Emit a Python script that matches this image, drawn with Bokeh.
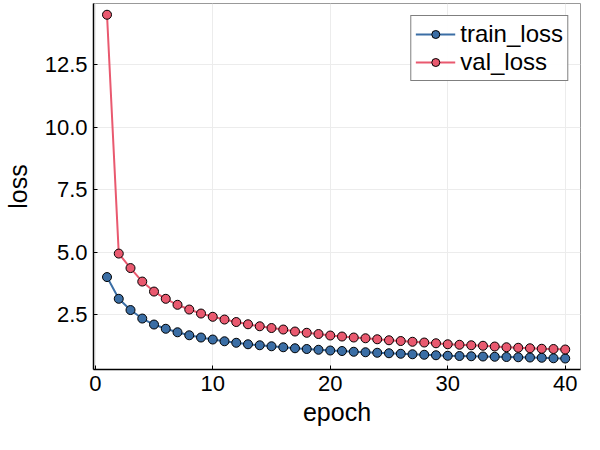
from bokeh.plotting import figure
from bokeh.embed import file_html
from bokeh.resources import INLINE
from bokeh.models import Range1d, FixedTicker, PrintfTickFormatter

epoch = list(range(1, 41))
train_loss = [4.00, 3.13, 2.68, 2.34, 2.10, 1.93, 1.79, 1.67, 1.58, 1.50,
              1.43, 1.37, 1.31, 1.27, 1.23, 1.19, 1.15, 1.12, 1.09, 1.06,
              1.04, 1.01, 0.99, 0.97, 0.95, 0.93, 0.91, 0.89, 0.87, 0.85,
              0.84, 0.83, 0.82, 0.81, 0.80, 0.79, 0.78, 0.77, 0.75, 0.74]
val_loss = [14.50, 4.94, 4.36, 3.82, 3.42, 3.13, 2.89, 2.70, 2.54, 2.41,
            2.30, 2.20, 2.11, 2.03, 1.96, 1.90, 1.82, 1.77, 1.72, 1.66,
            1.62, 1.58, 1.55, 1.51, 1.47, 1.44, 1.41, 1.38, 1.35, 1.31,
            1.29, 1.27, 1.25, 1.22, 1.19, 1.17, 1.15, 1.13, 1.12, 1.10]

FONT = "Liberation Sans"
BLUE = "#3b6ea5"
RED = "#e9596f"

p = figure(width=584, height=434, output_backend="svg", toolbar_location=None,
           x_range=Range1d(-0.15, 41.3), y_range=Range1d(0.3, 14.95),
           x_axis_label="epoch", y_axis_label="loss",
           min_border_left=91, min_border_right=4, min_border_top=3, min_border_bottom=65)

p.line(epoch, train_loss, color=BLUE, line_width=2, legend_label="train_loss")
p.scatter(epoch, train_loss, size=9, fill_color=BLUE, line_color="black", line_width=1,
          legend_label="train_loss")
p.line(epoch, val_loss, color=RED, line_width=2, legend_label="val_loss")
p.scatter(epoch, val_loss, size=9, fill_color=RED, line_color="black", line_width=1,
          legend_label="val_loss")

p.xaxis.ticker = FixedTicker(ticks=[0, 10, 20, 30, 40])
p.yaxis.ticker = FixedTicker(ticks=[2.5, 5.0, 7.5, 10.0, 12.5])
p.yaxis.formatter = PrintfTickFormatter(format="%.1f")
for ax in (p.xaxis, p.yaxis):
    ax.major_label_text_font = FONT
    ax.major_label_text_font_size = "22px"
    ax.axis_label_text_font = FONT
    ax.axis_label_text_font_size = "25px"
    ax.axis_label_text_font_style = "normal"
    ax.axis_label_text_color = "black"
    ax.axis_line_color = "black"
    ax.axis_line_width = 1.5
    ax.major_tick_in = 4
    ax.major_tick_out = 0
    ax.minor_tick_line_color = None
    ax.major_label_text_color = "black"
    ax.major_label_standoff = 6
p.xaxis.axis_label_standoff = 4
p.yaxis.axis_label_standoff = 10

p.grid.grid_line_color = "#ececec"
p.outline_line_color = "#999999"
p.outline_line_width = 1

p.legend.location = "top_right"
p.legend.label_text_font = FONT
p.legend.label_text_font_size = "24px"
p.legend.label_text_color = "black"
p.legend.border_line_color = "black"
p.legend.border_line_width = 1
p.legend.margin = 12
p.legend.padding = 4
p.legend.spacing = 0
p.legend.label_height = 26
p.legend.glyph_width = 40

open("out.html", "w").write(file_html(p, INLINE))
